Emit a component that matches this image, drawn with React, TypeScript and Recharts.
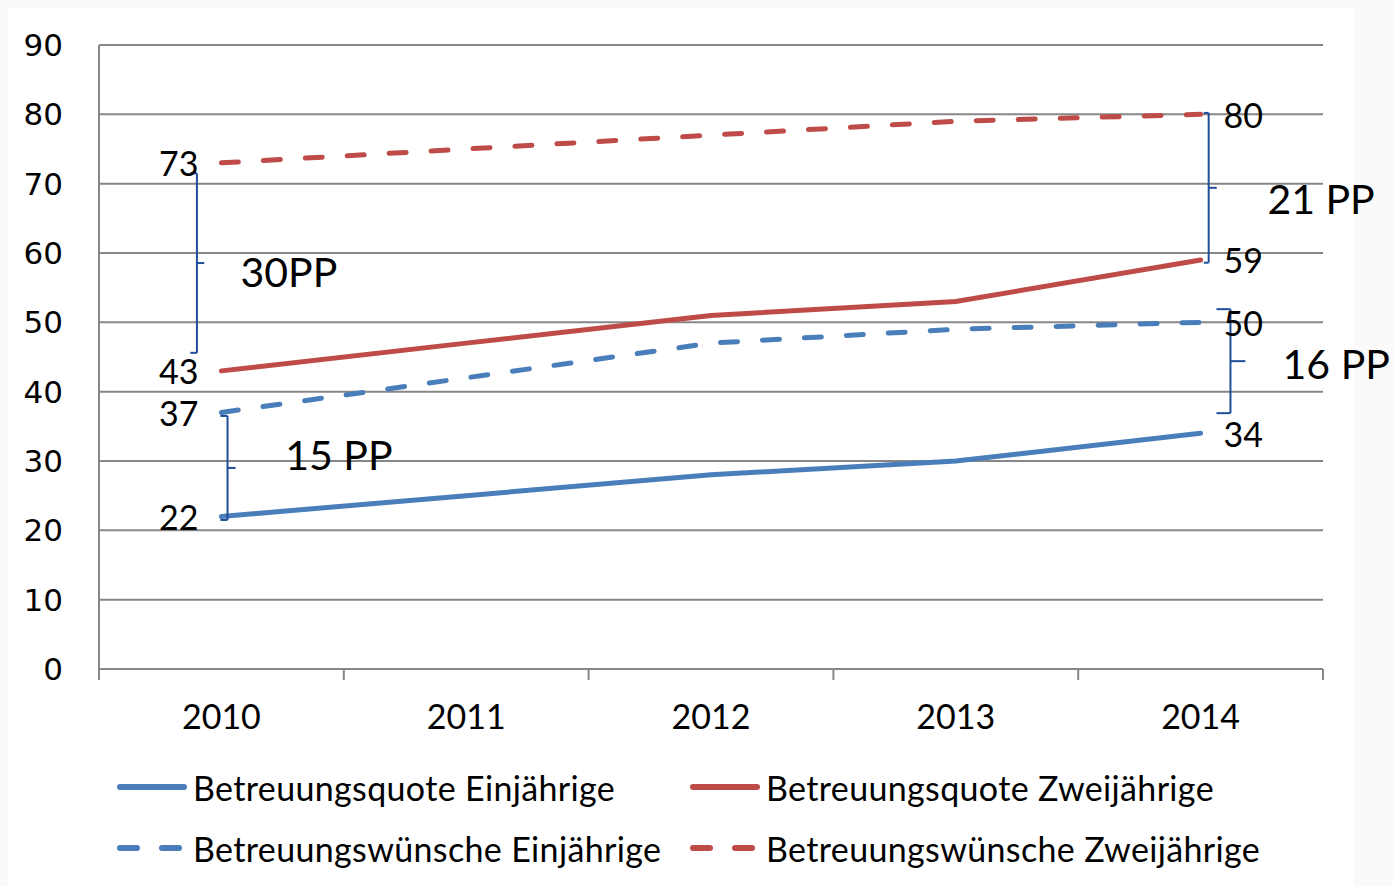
import {
  LineChart,
  Line,
  XAxis,
  YAxis,
  CartesianGrid,
  Legend,
  LabelList,
  ReferenceLine,
  ReferenceDot,
} from "recharts";

// values
const years = ["2010", "2011", "2012", "2013", "2014"];
const quoteEin = [22, 25, 28, 30, 34];
const quoteZwei = [43, 47, 51, 53, 59];
const wunschEin = [37, 42, 47, 49, 50];
const wunschZwei = [73, 75, 77, 79, 80];
const yTicks = [0, 10, 20, 30, 40, 50, 60, 70, 80, 90];

const data = years.map((year, i) => ({
  i,
  year,
  quoteEin: quoteEin[i],
  quoteZwei: quoteZwei[i],
  wunschEin: wunschEin[i],
  wunschZwei: wunschZwei[i],
}));
const xBounds = years.map((_, i) => i - 0.5).concat(years.length - 0.5);
const last = years.length - 1;

const BLUE = "#4A7EBB";
const RED = "#BE4B48";
const GRID = "#878787";
const BRACE = "#1F4E9A";
const CALIBRI = "Lato, 'Open Sans', sans-serif";
const DASH = "17 25";

const series = [
  { key: "quoteEin", name: "Betreuungsquote Einjährige", color: BLUE, dashed: false },
  { key: "quoteZwei", name: "Betreuungsquote Zweijährige", color: RED, dashed: false },
  { key: "wunschEin", name: "Betreuungswünsche Einjährige", color: BLUE, dashed: true },
  { key: "wunschZwei", name: "Betreuungswünsche Zweijährige", color: RED, dashed: true },
];

// gap brackets between wish and actual rate (x offsets in category units)
const gaps = [
  { at: 0, hi: wunschZwei[0], lo: quoteZwei[0], padHi: -1.5, padLo: 2.6, dx: -0.1, serif: -0.027, tick: 0.03, sep: "", labelDx: 0.078, labelY: 57.3 },
  { at: 0, hi: wunschEin[0], lo: quoteEin[0], padHi: -0.5, padLo: -0.5, dx: 0.025, serif: -0.029, tick: 0.033, sep: " ", labelDx: 0.261, labelY: 30.9 },
  { at: last, hi: wunschZwei[last], lo: quoteZwei[last], padHi: 0.2, padLo: -0.4, dx: 0.033, serif: -0.02, tick: 0.033, sep: " ", labelDx: 0.273, labelY: 67.8 },
  { at: last, hi: wunschEin[last], lo: quoteEin[last], padHi: 1.9, padLo: 2.9, dx: 0.122, serif: -0.057, tick: 0.061, sep: " ", labelDx: 0.335, labelY: 44.1 },
];

const edgeLabel = (props: any) => {
  const { x, y, value, index } = props;
  if (index !== 0 && index !== last) return null;
  const left = index === 0;
  return (
    <text
      x={left ? x - 23 : x + 23}
      y={y}
      textAnchor={left ? "end" : "start"}
      dominantBaseline="central"
      fontFamily={CALIBRI}
      fontSize={34}
      fill="#000"
    >
      {value}
    </text>
  );
};

const noTick = () => <g />;

const LegendBox = () => (
  <div style={{ position: "relative", width: "100%", height: 137 }}>
    {series.map((s, n) => {
      const left = [109, 682][n % 2];
      const top = [38, 99][Math.floor(n / 2)];
      return (
        <div
          key={s.key}
          style={{
            position: "absolute",
            left,
            top: top - 22,
            height: 44,
            display: "flex",
            alignItems: "center",
            whiteSpace: "nowrap",
          }}
        >
          <svg width={70} height={10} style={{ marginRight: 6 }}>
            <line
              x1={3}
              y1={5}
              x2={s.dashed ? 64 : 67}
              y2={5}
              stroke={s.color}
              strokeWidth={6}
              strokeLinecap="round"
              strokeDasharray={s.dashed ? DASH : undefined}
            />
          </svg>
          <span style={{ fontFamily: CALIBRI, fontSize: 34, letterSpacing: 0.35, color: "#000" }}>
            {s.name}
          </span>
        </div>
      );
    })}
  </div>
);

export default function App() {
  return (
    <div style={{ position: "fixed", inset: 0, background: "#fafafa" }}>
      <div
        style={{ position: "absolute", left: 8, top: 8, width: 1346, height: 878, background: "#fff" }}
      />
      <div style={{ position: "absolute", left: 8, top: 8 }}>
        <LineChart
          width={1385}
          height={878}
          data={data}
          margin={{ top: 37, right: 70, bottom: 0, left: 0 }}
        >
          <CartesianGrid vertical={false} stroke={GRID} strokeWidth={2} />
          {/* axis line + tick marks between categories */}
          <XAxis
            dataKey="i"
            type="number"
            domain={[-0.5, last + 0.5]}
            ticks={xBounds}
            interval={0}
            tick={noTick}
            tickSize={11}
            tickLine={{ stroke: GRID, strokeWidth: 2 }}
            axisLine={{ stroke: GRID, strokeWidth: 2 }}
            height={1}
          />
          {/* year labels centred on categories */}
          <XAxis
            xAxisId="lab"
            dataKey="i"
            type="number"
            domain={[-0.5, last + 0.5]}
            ticks={years.map((_, i) => i)}
            interval={0}
            tickFormatter={(v) => years[v]}
            axisLine={false}
            tickLine={false}
            tickSize={0}
            tickMargin={35}
            height={79}
            tick={{ fontFamily: CALIBRI, fontSize: 34, fill: "#000" }}
          />
          <YAxis
            domain={[0, 90]}
            ticks={yTicks}
            interval={0}
            width={91}
            tickSize={0}
            tickMargin={36}
            tickLine={false}
            axisLine={{ stroke: GRID, strokeWidth: 2 }}
            tick={{ fontFamily: "'DejaVu Sans', sans-serif", fontSize: 31, fill: "#000" }}
          />
          <Legend verticalAlign="bottom" content={<LegendBox />} wrapperStyle={{ left: 0, width: 1385 }} />
          {series.map((s) => (
            <Line
              key={s.key}
              dataKey={s.key}
              name={s.name}
              type="linear"
              stroke={s.color}
              strokeWidth={5}
              strokeLinecap="round"
              strokeDasharray={s.dashed ? DASH : undefined}
              dot={false}
              activeDot={false}
              isAnimationActive={false}
            >
              <LabelList dataKey={s.key} content={edgeLabel} />
            </Line>
          ))}
          {gaps.flatMap((g, n) => {
            const x = g.at + g.dx;
            const top = g.hi + g.padHi;
            const bot = g.lo + g.padLo;
            const mid = (top + bot) / 2;
            const segs = [
              [{ x: x + g.serif, y: top }, { x, y: top }],
              [{ x, y: top }, { x, y: bot }],
              [{ x: x + g.serif, y: bot }, { x, y: bot }],
              [{ x, y: mid }, { x: x + g.tick, y: mid }],
            ];
            return segs.map((seg, k) => (
              <ReferenceLine
                key={`g${n}-${k}`}
                segment={seg}
                stroke={BRACE}
                strokeWidth={2}
                ifOverflow="visible"
              />
            ));
          })}
          {gaps.map((g, n) => (
            <ReferenceDot
              key={`t${n}`}
              x={g.at + g.labelDx}
              y={g.labelY}
              r={0}
              ifOverflow="visible"
              shape={(p: any) => (
                <text
                  x={p.cx}
                  y={p.cy}
                  dominantBaseline="central"
                  fontFamily={CALIBRI}
                  fontSize={41}
                  fill="#000"
                >
                  {`${g.hi - g.lo}${g.sep}PP`}
                </text>
              )}
            />
          ))}
        </LineChart>
      </div>
    </div>
  );
}
